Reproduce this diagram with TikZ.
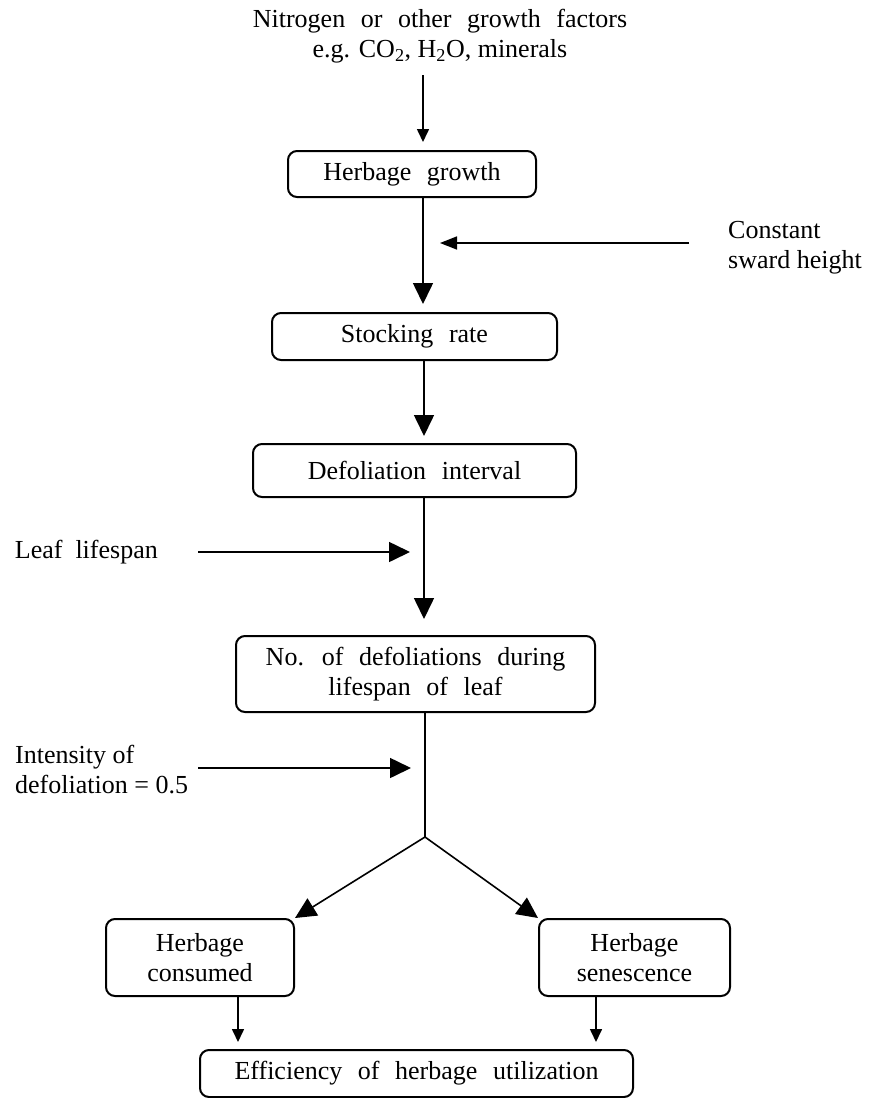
\documentclass[tikz,border=0pt]{standalone}
\usepackage{fontspec}
\setmainfont{Liberation Serif}
\newfontfamily\widefont{Liberation Serif}[WordSpace=2.4]
\usetikzlibrary{arrows.meta}
\begin{document}
\begin{tikzpicture}[x=1pt,y=-1pt,
  font=\fontsize{26}{30}\selectfont,
  box/.style={draw, line width=2pt, rounded corners=9pt, inner sep=0pt, align=center},
  lbl/.style={inner sep=0pt, align=center},
  conn/.style={line width=1.6pt},
  bigarr/.style={conn, -{Triangle[length=21pt,width=20pt]}},
  midarr/.style={conn, -{Triangle[length=17pt,width=13pt]}},
  smallarr/.style={conn, -{Triangle[length=13pt,width=12pt]}}]
\useasboundingbox (0,0) rectangle (871,1098);
% nodes
\node[lbl] (title) at (440,36) {{\widefont Nitrogen or other growth factors}\\e.g. CO\textsubscript{2}, H\textsubscript{2}O, minerals};
\node[box, minimum width=248pt, minimum height=46pt] (growth) at (412,174) {\widefont Herbage growth};
\node[box, minimum width=285pt, minimum height=47pt] (stocking) at (414.5,336.5) {\widefont Stocking rate};
\node[box, minimum width=323pt, minimum height=53pt] (defol) at (414.5,470.5) {\widefont Defoliation interval};
\node[box, minimum width=359pt, minimum height=76pt] (nodef) at (415.5,674) {\widefont No. of defoliations during\\\widefont lifespan of leaf};
\node[box, minimum width=188pt, minimum height=77pt] (consumed) at (200,957.5) {Herbage\\consumed};
\node[box, minimum width=191pt, minimum height=77pt] (senesc) at (634.5,957.5) {Herbage\\senescence};
\node[box, minimum width=433pt, minimum height=47pt] (eff) at (416.5,1073.5) {\widefont Efficiency of herbage utilization};
\node[lbl, anchor=west, align=left] (constant) at (728,248) {Constant\\sward height};
\node[lbl, anchor=east] (leaf) at (158,552) {Leaf\hspace{0.5em}lifespan};
\node[lbl, anchor=west, align=left] (intens) at (15,770) {Intensity of\\defoliation = 0.5};
% coordinates
\coordinate (spine) at (423,0);
\coordinate (spine2) at (424,0);
\coordinate (fork) at (425,837);
\coordinate (cx) at (238,0);
\coordinate (sx) at (596,0);
\coordinate (cstart) at (689,243);
\coordinate (ctip) at (440,243);
\coordinate (lstart) at (198,552);
\coordinate (ltip) at (410,552);
\coordinate (istart) at (198,768);
\coordinate (itip) at (411,768);
\coordinate (ttop) at (423,75);
% connectors
\draw[smallarr, shorten >=8pt] (ttop) -- (growth.north -| spine);
\draw[bigarr, shorten >=8pt] (growth.south -| spine) -- (stocking.north -| spine);
\draw[bigarr, shorten >=7pt] (stocking.south -| spine2) -- (defol.north -| spine2);
\draw[bigarr, shorten >=16pt] (defol.south -| spine2) -- (nodef.north -| spine2);
\draw[conn] (nodef.south -| fork) -- (fork);
\draw[bigarr] (fork) -- (consumed.north east);
\draw[bigarr] (fork) -- (senesc.north west);
\draw[smallarr, shorten >=7pt] (consumed.south -| cx) -- (eff.north -| cx);
\draw[smallarr, shorten >=7pt] (senesc.south -| sx) -- (eff.north -| sx);
\draw[midarr] (cstart) -- (ctip);
\draw[bigarr] (lstart) -- (ltip);
\draw[bigarr] (istart) -- (itip);
\end{tikzpicture}
\end{document}
